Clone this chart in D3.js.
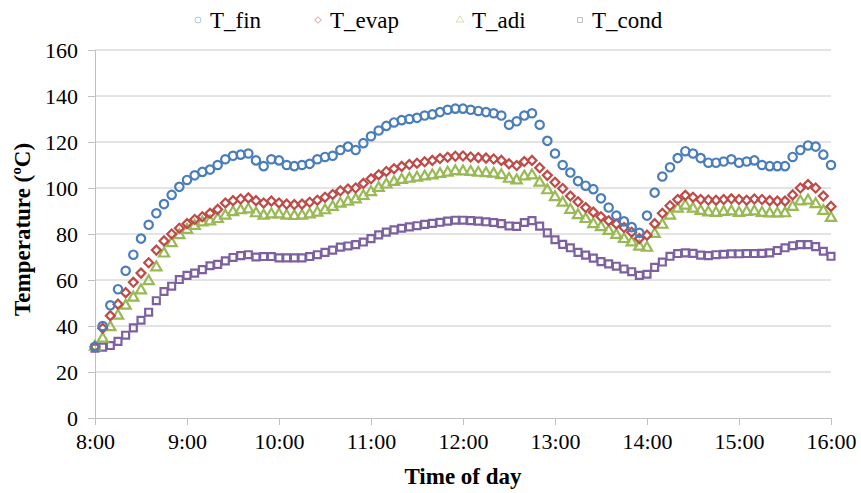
<!DOCTYPE html>
<html>
<head>
<meta charset="utf-8">
<script src="https://cdn.jsdelivr.net/npm/d3@7"></script>
<style>
  body { margin: 0; background: #fff; }
</style>
</head>
<body>
<div id="chart"></div>
<script>
// minutes after 8:00, one reading every 5 minutes
var minutes = d3.range(0, 481, 5);

var tFin = [31, 40, 49, 56, 64, 71, 78, 84, 89, 93, 97, 100.5,
  103.5, 105.5, 107, 108, 110, 112.5, 114, 114.5, 115, 112, 109.5, 112.5,
  112, 110, 109.5, 110, 110.5, 112.5, 113.5, 114, 116.5, 118, 116.5, 119.5,
  122.5, 125, 127, 128.5, 129.5, 130, 130.5, 131.5, 132, 133, 134, 134.5,
  134.5, 134, 133.5, 133, 132.5, 131.5, 127.5, 129, 131.5, 132.5, 127.5, 120.5,
  115, 110, 106.7, 103, 101, 99.5, 95.5, 91.5, 88, 85.5, 83, 80.5,
  88, 98, 105, 109, 113, 116, 115, 113, 111, 111, 111.5, 112.5,
  111, 111.5, 112, 110, 109.5, 109.5, 109.5, 113.5, 116.5, 118.5, 118, 114.5,
  110];

var tEvap = [31, 39, 44.5, 49.5, 54.5, 59, 63, 67.5, 73, 77, 80, 82.5,
  84.5, 86.3, 87.5, 89, 90.7, 93.5, 94.5, 95.2, 95.7, 94.5, 93.5, 94.3,
  93.5, 93, 92.8, 93, 93.8, 94.7, 96, 97.2, 98.8, 99.6, 100, 102,
  104, 105.8, 107.2, 108.4, 109.4, 110.2, 110.8, 111.4, 112, 112.8, 113.4, 113.8,
  113.9, 113.5, 113.2, 113, 112.6, 112, 110.5, 109.8, 111.5, 112, 108.8, 105.5,
  102.5, 99.8, 96.5, 94, 91.5, 89.5, 87.5, 85.8, 84.4, 82.8, 80.8, 78,
  79.5, 84.5, 89, 92.3, 95, 96.8, 96, 95, 94.8, 94.7, 95, 95.3,
  95, 94.7, 95.2, 95, 94.5, 94.3, 94.3, 97, 100, 101.5, 100, 96.5,
  92];

var tAdi = [31, 34.5, 39.5, 44.5, 48.8, 52.3, 55.5, 59.5, 65.5, 71.5, 76, 79.5,
  81.8, 83.5, 85, 85.5, 86.5, 88, 89.5, 90.3, 90.7, 89, 88, 88.5,
  88.5, 88, 87.8, 88, 88.5, 89.3, 90.3, 91.8, 93.2, 94, 95, 96.5,
  98.2, 100, 101.5, 102.6, 103.5, 104, 104.5, 105, 105.5, 106.1, 106.7, 107.3,
  107.2, 107, 106.6, 106.4, 106.2, 105.6, 104, 103.3, 105, 105.5, 102.3, 99,
  96, 93.6, 90.5, 88.2, 86.5, 84.3, 83, 81.3, 79.6, 77.8, 76.3, 74.5,
  74, 80, 84, 88, 91, 92.3, 91, 90, 89.4, 89.2, 89.6, 89.8,
  89.2, 89.6, 89.8, 89.2, 88.9, 88.9, 89, 91.8, 94.2, 94.5, 93, 90,
  87];

var tCond = [30.4, 30.8, 31.5, 33.3, 36, 39.2, 42.5, 46, 51, 55, 57.3, 60.2,
  62, 63, 64.5, 66.2, 66.8, 68.3, 69.8, 70.6, 71, 70, 70.2, 70.2,
  69.6, 69.6, 69.6, 69.6, 70.2, 71, 72, 73, 74.3, 74.8, 75.4, 76.5,
  78, 79.6, 80.8, 81.8, 82.5, 83.1, 83.6, 84.2, 84.6, 85.1, 85.6, 86,
  86, 85.8, 85.6, 85.3, 85, 84.5, 83.5, 83.3, 85, 85.8, 83.4, 80.5,
  77.5, 75.5, 74, 72, 70.8, 69.5, 68, 67, 66, 64.8, 63.6, 62,
  62.5, 65.5, 67.8, 70.3, 71.5, 71.8, 71.6, 70.8, 70.6, 71, 71.2, 71.4,
  71.4, 71.5, 71.5, 71.6, 71.8, 72.8, 74, 74.9, 75.4, 75.4, 74.5, 72.5,
  70.3];

var seriesNames = ["T_fin", "T_evap", "T_adi", "T_cond"];
var xTickLabels = ["8:00", "9:00", "10:00", "11:00", "12:00", "13:00", "14:00", "15:00", "16:00"];
var yTicks = [0, 20, 40, 60, 80, 100, 120, 140, 160];

var serif = "'Liberation Serif', 'Times New Roman', Times, serif";

var width = 861, height = 493;
var margin = {top: 50, right: 30, bottom: 75, left: 95};

var svg = d3.select("#chart").append("svg")
    .attr("width", width)
    .attr("height", height)
    .style("font-family", serif);

var x = d3.scaleLinear().domain([0, 480]).range([margin.left, width - margin.right]);
var y = d3.scaleLinear().domain([0, 160]).range([height - margin.bottom, margin.top]);

// gridlines
svg.append("g")
    .selectAll("line")
    .data(yTicks.slice(1))
    .enter().append("line")
    .attr("x1", margin.left).attr("x2", width - margin.right)
    .attr("y1", function(d) { return y(d); }).attr("y2", function(d) { return y(d); })
    .attr("stroke", "#c8c8c8").attr("stroke-width", 1);

// y axis
var yAxis = svg.append("g")
    .attr("transform", "translate(" + margin.left + ",0)")
    .call(d3.axisLeft(y).tickValues(yTicks).tickSize(7).tickPadding(10));
yAxis.attr("font-family", null).attr("font-size", null);
yAxis.selectAll("line, path").attr("stroke", "#c0c0c0");
yAxis.selectAll("text").style("font-size", "22px").style("font-family", serif).attr("fill", "#000");

// x axis
var xAxis = svg.append("g")
    .attr("transform", "translate(0," + y(0) + ")")
    .call(d3.axisBottom(x).tickValues(d3.range(0, 481, 60))
        .tickFormat(function(d, i) { return xTickLabels[i]; })
        .tickSize(7).tickPadding(8));
xAxis.attr("font-family", null).attr("font-size", null);
xAxis.selectAll("line, path").attr("stroke", "#c0c0c0");
xAxis.selectAll("text").style("font-size", "22px").style("font-family", serif).attr("fill", "#000");

// axis titles
svg.append("text")
    .attr("x", x(240)).attr("y", 484)
    .attr("text-anchor", "middle")
    .style("font-family", serif)
    .style("font-size", "23px").style("font-weight", "bold")
    .text("Time of day");

svg.append("text")
    .attr("transform", "translate(30," + y(82) + ") rotate(-90)")
    .attr("text-anchor", "middle")
    .style("font-family", serif)
    .style("font-size", "23px").style("font-weight", "bold")
    .text("Temperature (ºC)");

var series = [
  {name: seriesNames[0], values: tFin, color: "#4a7ebb", symbol: d3.symbolCircle, size: 55, rot: 0},
  {name: seriesNames[1], values: tEvap, color: "#be4b48", symbol: d3.symbolSquare, size: 40, rot: 45},
  {name: seriesNames[2], values: tAdi, color: "#98b954", symbol: d3.symbolTriangle, size: 45, rot: 0},
  {name: seriesNames[3], values: tCond, color: "#7d60a0", symbol: d3.symbolSquare, size: 48, rot: 0}
];

// draw back to front so T_fin sits on top
series.slice().reverse().forEach(function(s) {
    var sym = d3.symbol().type(s.symbol).size(s.size);
    svg.append("g")
        .selectAll("path")
        .data(s.values)
        .enter().append("path")
        .attr("d", sym)
        .attr("transform", function(d, i) {
            return "translate(" + x(minutes[i]) + "," + y(d) + ") rotate(" + s.rot + ")";
        })
        .attr("fill", "none")
        .attr("stroke", s.color)
        .attr("stroke-width", 2.2);
});

// legend
var legendX = [198, 318, 460, 580];
var legend = svg.append("g");
series.forEach(function(s, i) {
    legend.append("path")
        .attr("d", d3.symbol().type(s.symbol).size(s.size * 0.5)())
        .attr("transform", "translate(" + legendX[i] + ",20) rotate(" + s.rot + ")")
        .attr("fill", "none")
        .attr("stroke", s.color)
        .attr("stroke-opacity", 0.45)
        .attr("stroke-width", 1);
    legend.append("text")
        .attr("x", legendX[i] + 12).attr("y", 28)
        .style("font-family", serif)
        .style("font-size", "23px")
        .text(s.name);
});
</script>
</body>
</html>
